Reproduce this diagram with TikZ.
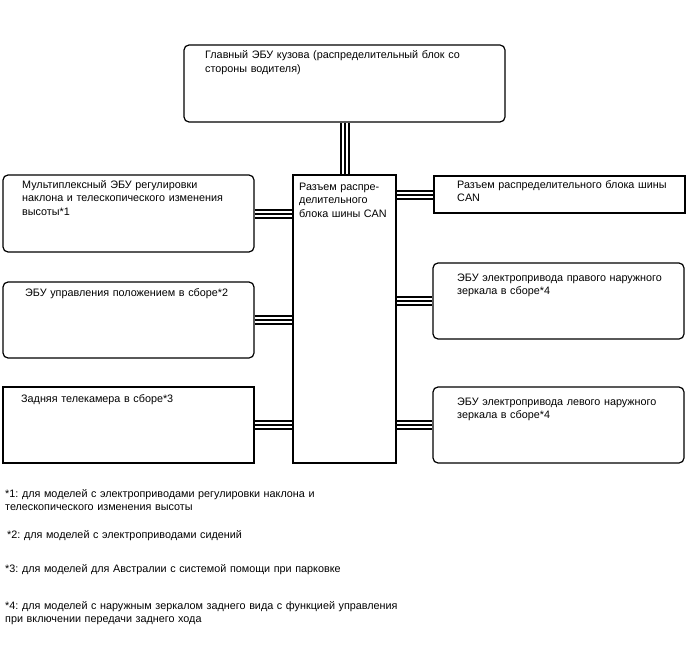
\documentclass[tikz,border=0pt]{standalone}
\usepackage{fontspec}
\setmainfont{Liberation Sans}
\frenchspacing
\pgfdeclarelayer{bg}
\pgfsetlayers{bg,main}
\begin{document}
\begin{tikzpicture}[x=1pt,y=-1pt,
  box/.style={draw=black, line width=1.2pt, fill=white, inner sep=0pt},
  rbox/.style={box, rounded corners=5pt},
  txt/.style={anchor=base west, inner sep=0pt, text width=300pt, align=left,
    font=\fontsize{10.8pt}{13.5pt}\selectfont},
  bus/.style={line width=10pt, draw=black,
    postaction={draw=white, line width=6pt},
    postaction={draw=black, line width=2pt}}]
\useasboundingbox (0,0) rectangle (688,658);
% boxes
\node[rbox, minimum width=321pt, minimum height=77pt] (top) at (344.5,83.5) {};
\node[box, minimum width=103pt, minimum height=288pt] (c) at (344.5,319) {};
\node[rbox, minimum width=251pt, minimum height=77pt] (l1) at (128.5,213.5) {};
\node[rbox, minimum width=251pt, minimum height=76pt] (l2) at (128.5,320) {};
\node[box, minimum width=251pt, minimum height=76pt] (l3) at (128.5,425) {};
\node[box, minimum width=251pt, minimum height=37pt] (r1) at (559.5,194.5) {};
\node[rbox, minimum width=251pt, minimum height=76pt] (r2) at (558.5,301) {};
\node[rbox, minimum width=251pt, minimum height=76pt] (r3) at (558.5,425) {};
% texts
\node[txt] (ttop) at (205,59) {Главный ЭБУ кузова (распределительный блок со\\стороны водителя)};
\node[txt] (tl1) at (22,188) {Мультиплексный ЭБУ регулировки\\наклона и телескопического изменения\\высоты*1};
\node[txt] (tl2) at (25,296) {ЭБУ управления положением в сборе*2};
\node[txt] (tl3) at (21,402) {Задняя телекамера в сборе*3};
\node[txt] (tc) at (299,190) {Разъем распре-\\делительного\\блока шины CAN};
\node[txt] (tr1) at (457,188) {Разъем распределительного блока шины\\CAN};
\node[txt] (tr2) at (457,281) {ЭБУ электропривода правого наружного\\зеркала в сборе*4};
\node[txt] (tr3) at (457,405) {ЭБУ электропривода левого наружного\\зеркала в сборе*4};
% footnotes
\node[txt, text width=450pt] (f1) at (5,497) {*1: для моделей с электроприводами регулировки наклона и\\телескопического изменения высоты};
\node[txt] (f2) at (7,538) {*2: для моделей с электроприводами сидений};
\node[txt, text width=450pt] (f3) at (5,572) {*3: для моделей для Австралии с системой помощи при парковке};
\node[txt, text width=450pt] (f4) at (5,609) {*4: для моделей с наружным зеркалом заднего вида с функцией управления\\при включении передачи заднего хода};
% connectors
\begin{pgfonlayer}{bg}
\draw[bus] (top) -- (c);
\draw[bus] (l1.east) -- (c.west |- l1.east);
\draw[bus] (l2.east) -- (c.west |- l2.east);
\draw[bus] (l3.east) -- (c.west |- l3.east);
\draw[bus] (c.east |- r1.west) -- (r1.west);
\draw[bus] (c.east |- r2.west) -- (r2.west);
\draw[bus] (c.east |- r3.west) -- (r3.west);
\end{pgfonlayer}
\end{tikzpicture}
\end{document}
